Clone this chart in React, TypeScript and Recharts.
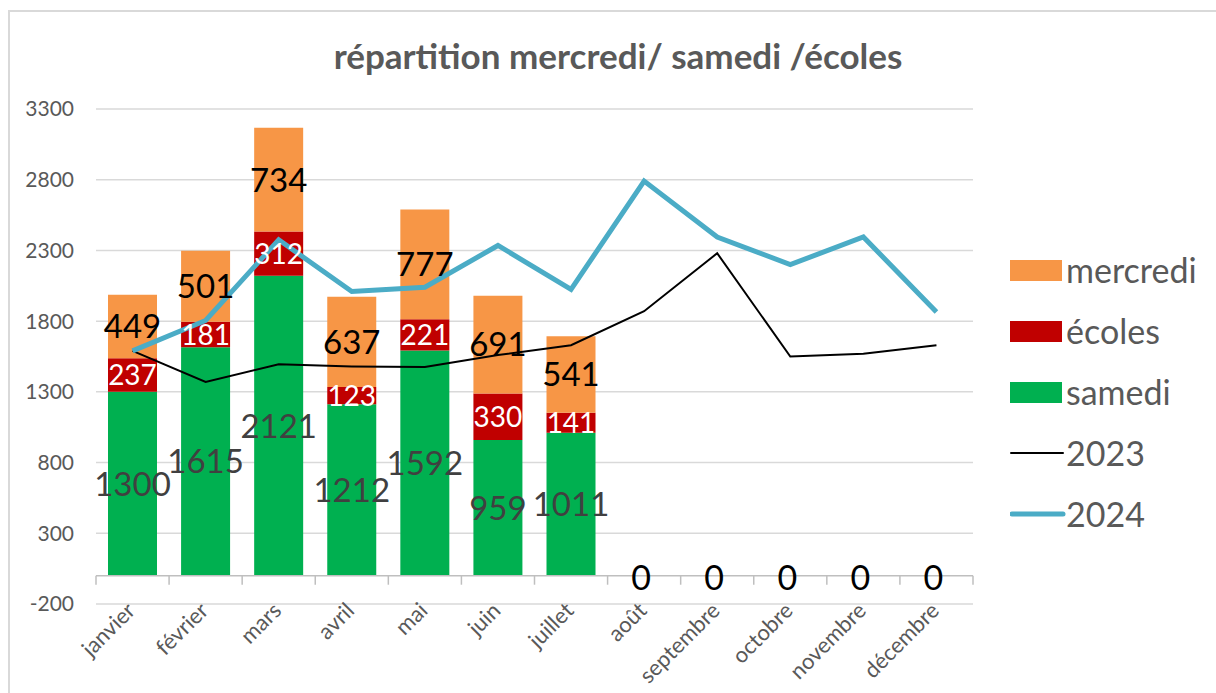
import React from 'react';
import {
  ComposedChart,
  Bar,
  Line,
  XAxis,
  YAxis,
  CartesianGrid,
  ReferenceLine,
  LabelList,
} from 'recharts';

const months = ['janvier', 'février', 'mars', 'avril', 'mai', 'juin', 'juillet', 'août', 'septembre', 'octobre', 'novembre', 'décembre'];
const samedi = [1300, 1615, 2121, 1212, 1592, 959, 1011, 0, 0, 0, 0, 0];
const ecoles = [237, 181, 312, 123, 221, 330, 141, 0, 0, 0, 0, 0];
const mercredi = [449, 501, 734, 637, 777, 691, 541, 0, 0, 0, 0, 0];
const line2023 = [1590, 1370, 1495, 1480, 1475, 1560, 1630, 1870, 2280, 1550, 1570, 1630];
const line2024 = [1590, 1805, 2375, 2010, 2040, 2335, 2025, 2790, 2395, 2200, 2395, 1865];
const yTicks = [-200, 300, 800, 1300, 1800, 2300, 2800, 3300];

const data = months.map((m, i) => {
  const total = samedi[i] + ecoles[i] + mercredi[i];
  return {
    month: m,
    samedi: samedi[i],
    ecoles: ecoles[i],
    mercredi: mercredi[i],
    // empty months: Excel still prints a "0" label on the zero line
    zero: total === 0 ? 0 : null,
    y2023: line2023[i],
    y2024: line2024[i],
  };
});

const FONT = 'Lato, "Open Sans", sans-serif';
const W = 1216;
const H = 693;
const LEFT = 96;
const RIGHT = 243;
const TOP = 109;
const XAXIS_H = 89;
const PLOT_H = H - TOP - XAXIS_H;
const Y_MIN = -200;
const Y_MAX = 3300;
const yZero = TOP + (PLOT_H * Y_MAX) / (Y_MAX - Y_MIN);
const band = (W - LEFT - RIGHT) / months.length;

const legendItems = [
  { name: 'mercredi', color: '#f79646', type: 'rect', w: 0 },
  { name: 'écoles', color: '#c00000', type: 'rect', w: 0 },
  { name: 'samedi', color: '#00b050', type: 'rect', w: 0 },
  { name: '2023', color: '#000000', type: 'line', w: 2 },
  { name: '2024', color: '#4bacc6', type: 'line', w: 5 },
];

const MonthTick = (props: any) => {
  const { x, payload, index } = props;
  const ax = x + 4;
  const ay = 612;
  return (
    <g>
      <line x1={x - band / 2} x2={x - band / 2} y1={yZero} y2={yZero + 9} stroke="#bfbfbf" strokeWidth={1.5} />
      {index === months.length - 1 && (
        <line x1={x + band / 2} x2={x + band / 2} y1={yZero} y2={yZero + 9} stroke="#bfbfbf" strokeWidth={1.5} />
      )}
      <text
        x={ax}
        y={ay}
        textAnchor="end"
        fill="#595959"
        fontSize={22}
        fontFamily={FONT}
        transform={`rotate(-45, ${ax}, ${ay})`}
      >
        {payload.value}
      </text>
    </g>
  );
};

const makeLabel = (fill: string, size: number) => (props: any) => {
  const { x, y, width, height, value } = props;
  if (!value) return null;
  return (
    <text
      x={x + width / 2}
      y={y + height / 2}
      dy="0.36em"
      textAnchor="middle"
      fill={fill}
      fontSize={size}
      fontFamily={FONT}
    >
      {value}
    </text>
  );
};

const ZeroLabel = (props: any) => {
  const { x, y, value } = props;
  if (value !== 0) return null;
  return (
    <text x={x - 3} y={y + 2} dy="0.36em" textAnchor="middle" fill="#000" fontSize={34} fontFamily={FONT}>
      0
    </text>
  );
};

const LegendBox = () => (
  <div style={{ position: 'absolute', left: 1010, top: 239, fontFamily: FONT }}>
    {legendItems.map((it) => (
      <div key={it.name} style={{ display: 'flex', alignItems: 'center', height: 61 }}>
        <svg width={56} height={24}>
          {it.type === 'rect' ? (
            <rect x={0} y={2} width={52} height={21} fill={it.color} />
          ) : (
            <line x1={it.w === 5 ? 2 : 1} x2={53} y1={12} y2={12} stroke={it.color} strokeWidth={it.w} strokeLinecap="round" />
          )}
        </svg>
        <span style={{ fontSize: 34, color: '#595959', marginLeft: 0, lineHeight: '40px' }}>{it.name}</span>
      </div>
    ))}
  </div>
);

export default function App() {
  return (
    <div style={{ position: 'absolute', left: 0, top: 0, width: W, height: H, background: '#fff', overflow: 'hidden' }}>
      <div
        style={{
          position: 'absolute',
          left: 8,
          top: 10,
          width: W,
          height: H,
          borderLeft: '2px solid #d9d9d9',
          borderTop: '2px solid #d9d9d9',
        }}
      />
      <div
        style={{
          position: 'absolute',
          left: 0,
          width: 1236,
          top: 34,
          textAlign: 'center',
          fontFamily: FONT,
          fontWeight: 700,
          fontSize: 35,
          color: '#595959',
        }}
      >
        répartition mercredi/ samedi /écoles
      </div>
      <div style={{ position: 'absolute', left: 0, top: 0 }}>
        <ComposedChart width={W} height={H} data={data} margin={{ top: TOP, right: RIGHT, bottom: 0, left: 0 }}>
          <CartesianGrid horizontal vertical={false} stroke="#d9d9d9" strokeWidth={1.5} />
          <XAxis dataKey="month" height={XAXIS_H} axisLine={false} tickLine={false} tick={<MonthTick />} interval={0} />
          <YAxis
            width={LEFT}
            domain={[Y_MIN, Y_MAX]}
            ticks={yTicks}
            interval={0}
            axisLine={false}
            tickLine={false}
            tickMargin={16}
            tick={{ fill: '#595959', fontSize: 21, fontFamily: FONT }}
          />
          <ReferenceLine y={0} stroke="#bfbfbf" strokeWidth={1.5} />
          <Bar dataKey="samedi" stackId="a" fill="#00b050" barSize={49} isAnimationActive={false}>
            <LabelList dataKey="samedi" content={makeLabel('#404040', 33)} />
          </Bar>
          <Bar dataKey="ecoles" stackId="a" fill="#c00000" barSize={49} isAnimationActive={false}>
            <LabelList dataKey="ecoles" content={makeLabel('#ffffff', 28)} />
          </Bar>
          <Bar dataKey="mercredi" stackId="a" fill="#f79646" barSize={49} isAnimationActive={false}>
            <LabelList dataKey="mercredi" content={makeLabel('#000000', 33)} />
          </Bar>
          <Line dataKey="y2023" stroke="#000000" strokeWidth={2} dot={false} isAnimationActive={false} />
          <Line dataKey="y2024" stroke="#4bacc6" strokeWidth={5} dot={false} isAnimationActive={false} />
          <Line dataKey="zero" stroke="none" dot={false} legendType="none" isAnimationActive={false}>
            <LabelList dataKey="zero" content={<ZeroLabel />} />
          </Line>
        </ComposedChart>
      </div>
      <LegendBox />
    </div>
  );
}
